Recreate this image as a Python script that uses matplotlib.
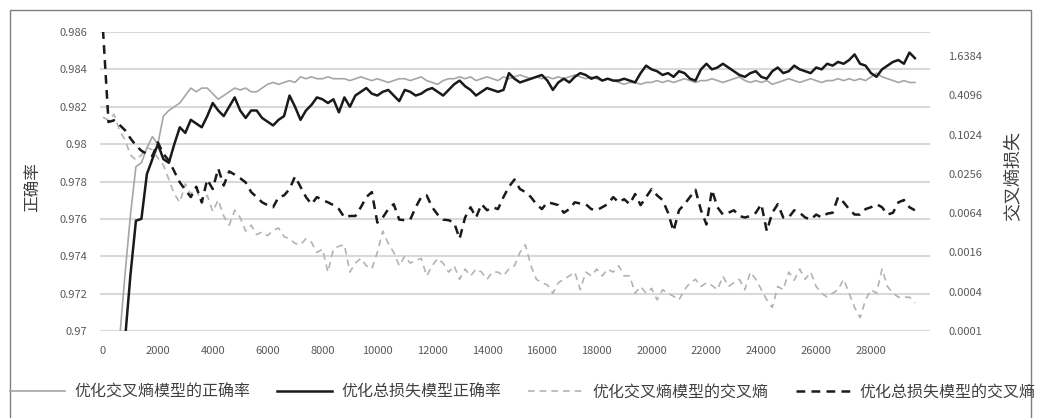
import numpy as np
import matplotlib
matplotlib.use("Agg")
import matplotlib.pyplot as plt
from matplotlib.patches import Rectangle

plt.rcParams["font.family"] = ["Noto Sans CJK SC", "DejaVu Sans"]

# training steps (every 200)
steps = list(range(0, 29800, 200))

# accuracy of the model optimised with cross-entropy
acc_ce = [
    0.900, 0.930, 0.955, 0.9695, 0.9730, 0.9762, 0.9788, 0.9790, 0.9798, 0.9804,
    0.9800, 0.9815, 0.9818, 0.9820, 0.9822, 0.9826, 0.9830, 0.9828, 0.9830, 0.9830,
    0.9827, 0.9824, 0.9826, 0.9828, 0.9830, 0.9829, 0.9830, 0.9828, 0.9828, 0.9830,
    0.9832, 0.9833, 0.9832, 0.9833, 0.9834, 0.9833, 0.9836, 0.9835, 0.9836, 0.9835,
    0.9835, 0.9836, 0.9835, 0.9835, 0.9835, 0.9834, 0.9835, 0.9836, 0.9835, 0.9834,
    0.9835, 0.9834, 0.9833, 0.9834, 0.9835, 0.9835, 0.9834, 0.9835, 0.9836, 0.9834,
    0.9833, 0.9832, 0.9834, 0.9835, 0.9835, 0.9836, 0.9835, 0.9836, 0.9834, 0.9835,
    0.9836, 0.9835, 0.9834, 0.9836, 0.9835, 0.9836, 0.9837, 0.9836, 0.9835, 0.9836,
    0.9835, 0.9836, 0.9835, 0.9836, 0.9835, 0.9836, 0.9837, 0.9836, 0.9835, 0.9836,
    0.9835, 0.9834, 0.9835, 0.9834, 0.9833, 0.9832, 0.9833, 0.9833, 0.9832, 0.9833,
    0.9833, 0.9834, 0.9833, 0.9834, 0.9833, 0.9834, 0.9835, 0.9834, 0.9833, 0.9834,
    0.9834, 0.9835, 0.9834, 0.9833, 0.9834, 0.9835, 0.9836, 0.9834, 0.9833, 0.9834,
    0.9833, 0.9834, 0.9832, 0.9833, 0.9834, 0.9835, 0.9834, 0.9833, 0.9834, 0.9835,
    0.9834, 0.9833, 0.9834, 0.9834, 0.9835, 0.9834, 0.9835, 0.9834, 0.9835, 0.9834,
    0.9836, 0.9838, 0.9836, 0.9835, 0.9834, 0.9833, 0.9834, 0.9833, 0.9833,
]

# accuracy of the model optimised with the total loss
acc_total = [
    0.900, 0.920, 0.940, 0.958, 0.9695, 0.9730, 0.9759, 0.9760, 0.9784, 0.9792,
    0.9800, 0.9792, 0.9790, 0.9800, 0.9809, 0.9806, 0.9813, 0.9811, 0.9809, 0.9815,
    0.9822, 0.9818, 0.9815, 0.9820, 0.9825, 0.9818, 0.9814, 0.9818, 0.9818, 0.9814,
    0.9812, 0.9810, 0.9813, 0.9815, 0.9826, 0.9820, 0.9813, 0.9818, 0.9821, 0.9825,
    0.9824, 0.9822, 0.9824, 0.9817, 0.9825, 0.9820, 0.9826, 0.9828, 0.9830, 0.9827,
    0.9826, 0.9828, 0.9829, 0.9826, 0.9823, 0.9829, 0.9828, 0.9826, 0.9827, 0.9829,
    0.9830, 0.9828, 0.9826, 0.9829, 0.9832, 0.9834, 0.9831, 0.9829, 0.9826, 0.9828,
    0.9830, 0.9829, 0.9828, 0.9829, 0.9838, 0.9835, 0.9833, 0.9834, 0.9835, 0.9836,
    0.9837, 0.9834, 0.9829, 0.9833, 0.9835, 0.9833, 0.9836, 0.9838, 0.9837, 0.9835,
    0.9836, 0.9834, 0.9835, 0.9834, 0.9834, 0.9835, 0.9834, 0.9833, 0.9838, 0.9842,
    0.9840, 0.9839, 0.9837, 0.9838, 0.9836, 0.9839, 0.9838, 0.9835, 0.9834, 0.9840,
    0.9843, 0.9840, 0.9841, 0.9843, 0.9841, 0.9839, 0.9837, 0.9836, 0.9838, 0.9839,
    0.9836, 0.9835, 0.9839, 0.9841, 0.9838, 0.9839, 0.9842, 0.9840, 0.9839, 0.9838,
    0.9841, 0.9840, 0.9843, 0.9842, 0.9844, 0.9843, 0.9845, 0.9848, 0.9843, 0.9842,
    0.9838, 0.9836, 0.9840, 0.9842, 0.9844, 0.9845, 0.9843, 0.9849, 0.9846,
]

# cross-entropy of the model optimised with cross-entropy
ce_ce = [
    0.19, 0.17, 0.21, 0.12, 0.085, 0.05, 0.042, 0.05, 0.065, 0.06,
    0.045, 0.035, 0.021, 0.0126, 0.0094, 0.018, 0.0125, 0.015, 0.009, 0.012,
    0.0068, 0.0102, 0.0058, 0.0042, 0.0071, 0.0055, 0.0034, 0.0042, 0.003, 0.0033,
    0.0029, 0.0035, 0.0038, 0.0028, 0.0026, 0.0022, 0.0021, 0.0026, 0.0023, 0.0016,
    0.0018, 0.0008, 0.0018, 0.002, 0.0021, 0.0008, 0.0011, 0.0013, 0.001, 0.0009,
    0.0016, 0.0034, 0.0022, 0.0016, 0.001, 0.0014, 0.0011, 0.0012, 0.0013, 0.0007,
    0.001, 0.0013, 0.0011, 0.0008, 0.001, 0.00062, 0.00089, 0.0007, 0.00089, 0.0008,
    0.00062, 0.0008, 0.0008, 0.0007, 0.0009, 0.001, 0.0016, 0.0021, 0.001, 0.00062,
    0.00055, 0.00051, 0.00038, 0.00055, 0.00062, 0.0007, 0.0008, 0.00043, 0.0008, 0.0007,
    0.00089, 0.0007, 0.00089, 0.0008, 0.001, 0.0007, 0.0007, 0.00038, 0.00048, 0.00038,
    0.00045, 0.0003, 0.00043, 0.00038, 0.00034, 0.0003, 0.00043, 0.00055, 0.00062, 0.00048,
    0.00055, 0.0005, 0.00043, 0.00069, 0.00048, 0.00055, 0.00062, 0.00043, 0.0008, 0.00062,
    0.00043, 0.0003, 0.00023, 0.00048, 0.00043, 0.0008, 0.0006, 0.00089, 0.00062, 0.0008,
    0.00048, 0.00038, 0.00033, 0.00038, 0.00043, 0.00062, 0.00038, 0.00023, 0.00016, 0.0003,
    0.00043, 0.00038, 0.00089, 0.00048, 0.00038, 0.00033, 0.00033, 0.00033, 0.00027,
]

# cross-entropy of the model optimised with the total loss
ce_total = [
    4.1, 0.16, 0.17, 0.145, 0.12, 0.09, 0.07, 0.058, 0.052, 0.048,
    0.078, 0.052, 0.041, 0.028, 0.019, 0.0146, 0.0113, 0.0163, 0.0094, 0.021,
    0.015, 0.031, 0.017, 0.028, 0.025, 0.022, 0.019, 0.0135, 0.0113, 0.0094,
    0.0085, 0.0079, 0.0113, 0.012, 0.015, 0.0234, 0.0163, 0.0113, 0.0088, 0.0113,
    0.0102, 0.0094, 0.0085, 0.0074, 0.0055, 0.0058, 0.0058, 0.0079, 0.0113, 0.0135,
    0.0046, 0.0055, 0.0074, 0.0088, 0.0051, 0.005, 0.0051, 0.0079, 0.0113, 0.012,
    0.0079, 0.0061, 0.0051, 0.005, 0.0046, 0.0026, 0.0055, 0.0079, 0.0055, 0.0088,
    0.0071, 0.0079, 0.0074, 0.0113, 0.0163, 0.021, 0.015, 0.0135, 0.0113, 0.0088,
    0.0074, 0.0094, 0.009, 0.0085, 0.0065, 0.0074, 0.0094, 0.009, 0.0088, 0.0074,
    0.0071, 0.0079, 0.0088, 0.0113, 0.0094, 0.0105, 0.0088, 0.0126, 0.0085, 0.0113,
    0.015, 0.012, 0.0102, 0.0065, 0.0034, 0.0071, 0.0088, 0.0113, 0.0146, 0.0071,
    0.0043, 0.0146, 0.0079, 0.0061, 0.0065, 0.0071, 0.0058, 0.0055, 0.0058, 0.0065,
    0.0088, 0.0034, 0.0065, 0.0088, 0.0055, 0.0055, 0.0071, 0.0065, 0.0055, 0.0051,
    0.0061, 0.0055, 0.0063, 0.0065, 0.0113, 0.0094, 0.0074, 0.0061, 0.0061, 0.0074,
    0.0079, 0.0088, 0.0079, 0.0061, 0.0065, 0.0094, 0.0102, 0.0079, 0.0071,
]

acc_ticks = [0.970, 0.972, 0.974, 0.976, 0.978, 0.980, 0.982, 0.984, 0.986]
acc_tick_labels = ["0.97", "0.972", "0.974", "0.976", "0.978", "0.98", "0.982", "0.984", "0.986"]
ce_ticks = [0.0001, 0.0004, 0.0016, 0.0064, 0.0256, 0.1024, 0.4096, 1.6384]
ce_tick_labels = ["0.0001", "0.0004", "0.0016", "0.0064", "0.0256", "0.1024", "0.4096", "1.6384"]
x_ticks = list(range(0, 30000, 2000))

labels = ["优化交叉熵模型的正确率", "优化总损失模型正确率", "优化交叉熵模型的交叉熵", "优化总损失模型的交叉熵"]

W, H = 1038, 418
fig = plt.figure(figsize=(W / 100, H / 100), dpi=100)
fig.patches.append(Rectangle((10 / W, -0.05), 1021 / W, 1.05 - 10 / H, transform=fig.transFigure,
                             fill=False, edgecolor="#7f7f7f", linewidth=1.0))

ax = fig.add_axes([100 / W, (H - 331) / H, 830 / W, 299 / H])
ax2 = ax.twinx()

tick_color = "#595959"
grid_color = "#d9d9d9"

l1, = ax.plot(steps, acc_ce, color="#a6a6a6", lw=1.2)
l2, = ax.plot(steps, acc_total, color="#1a1a1a", lw=1.8)
l3, = ax2.plot(steps, ce_ce, color="#b3b3b3", lw=1.2, dashes=(4, 3))
l4, = ax2.plot(steps, ce_total, color="#1a1a1a", lw=1.8, dashes=(3.5, 2.5))

ax.set_xlim(-110, 30150)
ax.set_ylim(0.970, 0.986)
ax.set_yticks(acc_ticks)
ax.set_yticklabels(acc_tick_labels)
ax.set_xticks(x_ticks)
ax.set_xticklabels([str(t) for t in x_ticks])
ax.yaxis.grid(True, color=grid_color, lw=1.5)
ax.set_axisbelow(True)

ax2.set_yscale("log")
ax2.set_ylim(0.0001, 3.84)
ax2.set_yticks(ce_ticks)
ax2.set_yticklabels(ce_tick_labels)
ax2.minorticks_off()

for a in (ax, ax2):
    for s in a.spines.values():
        s.set_visible(False)
ax.tick_params(axis="both", length=0, labelsize=8, colors=tick_color)
ax.tick_params(axis="y", pad=9)
ax.tick_params(axis="x", pad=11)
ax2.tick_params(axis="y", length=0, labelsize=8, colors=tick_color, pad=13)

ax.set_ylabel("正确率", fontsize=12, color="#404040")
ax2.set_ylabel("交叉熵损失", fontsize=13, color="#404040")
ax.yaxis.set_label_coords(-0.07, 0.48)
ax2.yaxis.set_label_coords(1.09, 0.52)

leg = fig.legend([l1, l2, l3, l4], labels, loc="center left", bbox_to_anchor=(-4 / W, 26 / H),
                 ncol=4, frameon=False, fontsize=11.5, handlelength=3.4,
                 handletextpad=0.6, columnspacing=1.7, labelcolor="#404040")

fig.savefig("out.png", dpi=100)
